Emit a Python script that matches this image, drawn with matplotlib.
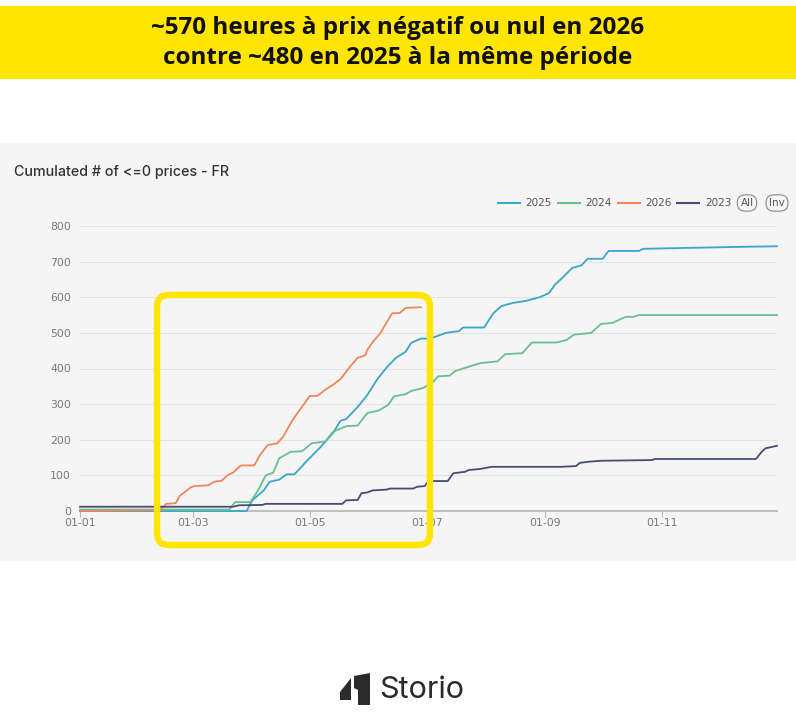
import numpy as np
import matplotlib.pyplot as plt
from matplotlib.patches import Rectangle, FancyBboxPatch, Polygon
from matplotlib.lines import Line2D

# day-of-year (0 = 01-01) and cumulated count of hours with price <= 0
days_2026 = [0, 42, 45, 50, 52, 58, 60, 67, 70, 74, 77, 80, 84, 91, 94, 98, 103, 106, 111, 116,
             120, 124, 128, 132, 136, 141, 145, 149, 150, 153, 157, 160, 163, 167, 170, 178]
vals_2026 = [0, 3, 20, 22, 42, 67, 70, 72, 82, 85, 100, 108, 128, 128, 157, 185, 190, 208, 255, 293,
             323, 323, 340, 354, 370, 405, 430, 437, 452, 475, 500, 528, 555, 556, 570, 572]

days_2025 = [0, 87, 90, 96, 99, 104, 108, 112, 118, 125, 132, 136, 139, 145, 150, 155, 160, 165,
             170, 173, 178, 183, 191, 198, 200, 211, 216, 220, 226, 233, 240, 245, 248, 252, 257,
             262, 265, 273, 276, 292, 294, 350, 364]
vals_2025 = [0, 0, 30, 58, 82, 88, 103, 103, 138, 176, 218, 253, 258, 292, 325, 368, 402, 430,
             447, 472, 484, 484, 500, 505, 515, 515, 556, 575, 584, 590, 600, 612, 635, 655, 682,
             690, 708, 708, 730, 730, 736, 742, 743]

days_2024 = [0, 78, 81, 89, 93, 97, 101, 104, 110, 116, 121, 128, 132, 139, 145, 150, 156, 161,
             164, 170, 173, 179, 184, 187, 193, 196, 200, 209, 218, 222, 231, 236, 249, 254, 258,
             267, 272, 278, 285, 289, 292, 364]
vals_2024 = [4, 4, 25, 25, 58, 100, 108, 148, 166, 168, 190, 195, 222, 238, 240, 275, 282, 298,
             322, 328, 337, 345, 360, 378, 380, 393, 400, 415, 420, 440, 443, 473, 473, 480, 495,
             500, 525, 528, 545, 545, 550, 550]

days_2023 = [0, 80, 83, 95, 97, 137, 139, 145, 147, 150, 153, 160, 162, 174, 176, 180, 182, 192,
             195, 201, 203, 209, 215, 251, 259, 261, 265, 272, 299, 300, 353, 356, 358, 364]
vals_2023 = [12, 12, 16, 17, 20, 20, 30, 31, 50, 52, 58, 60, 63, 63, 68, 70, 84, 84,
             106, 110, 115, 118, 124, 124, 126, 135, 138, 141, 143, 146, 146, 166, 176, 183]

tick_days = [0, 59, 120, 181, 243, 304]
tick_labels = ['01-01', '01-03', '01-05', '01-07', '01-09', '01-11']
y_ticks = [0, 100, 200, 300, 400, 500, 600, 700, 800]

series = [('2025', days_2025, vals_2025, '#3aa6c8'),
          ('2024', days_2024, vals_2024, '#68c08d'),
          ('2026', days_2026, vals_2026, '#f0875b'),
          ('2023', days_2023, vals_2023, '#474c74')]

W, H = 796, 727
fig = plt.figure(figsize=(W / 100, H / 100), dpi=100)
fig.patch.set_facecolor('white')


def fx(px):
    return px / W


def fy(py):
    return 1 - py / H


# yellow banner
fig.patches.append(Rectangle((0, fy(79)), 1, fy(6) - fy(79), transform=fig.transFigure,
                             facecolor='#ffe500', edgecolor='none', zorder=-2))
banner_font = dict(fontsize=17.5, fontweight='bold', family='Open Sans',
                   color='#111111', ha='center', va='center')
fig.text(0.5, fy(28), '~570 heures à prix négatif ou nul en 2026', **banner_font)
fig.text(0.5, fy(58), 'contre ~480 en 2025 à la même période', **banner_font)

# grey chart panel
fig.patches.append(Rectangle((0, fy(561)), 1, fy(143) - fy(561), transform=fig.transFigure,
                             facecolor='#f5f5f5', edgecolor='none', zorder=-2))
fig.text(fx(14), fy(172), 'Cumulated # of <=0 prices - FR', ha='left', va='center',
         fontsize=10.3, family='Inter', fontweight='medium', color='#333333')

ax = fig.add_axes([fx(80), fy(511), fx(777) - fx(80), fy(226) - fy(511)])
ax.set_facecolor('none')
ax.set_xlim(0, 364)
ax.set_ylim(0, 800)
for name, d, v, c in series:
    ax.plot(d, v, color=c, lw=1.3, clip_on=False, zorder=3)

ax.set_yticks(y_ticks)
ax.set_yticklabels([str(t) for t in y_ticks])
ax.set_xticks(tick_days)
ax.set_xticklabels(tick_labels)
ax.grid(axis='y', color='#e3e3e3', lw=0.8)
for s in ['top', 'right', 'left']:
    ax.spines[s].set_visible(False)
ax.spines['bottom'].set_color('#b5b5b5')
ax.spines['bottom'].set_linewidth(1.2)
ax.tick_params(axis='y', length=0, pad=6.5, labelsize=7.8, labelcolor='#777777')
ax.tick_params(axis='x', length=4, width=0.8, color='#b5b5b5', pad=1, labelsize=7.8,
               labelcolor='#777777')

# legend
leg_y = fy(203)
leg_pos = [(498, 525), (558, 585), (618, 645), (677, 705)]
for (name, d, v, c), (lx, tx) in zip(series, leg_pos):
    fig.lines.append(Line2D([fx(lx), fx(lx + 22)], [leg_y, leg_y], transform=fig.transFigure,
                            color=c, lw=1.5))
    fig.text(fx(tx), leg_y, name, ha='left', va='center', fontsize=7.5, color='#555555')
for label, cx in [('All', 747), ('Inv', 777)]:
    fig.text(fx(cx), leg_y, label, ha='center', va='center', fontsize=7.5, color='#555555',
             bbox=dict(boxstyle='round,pad=0.3,rounding_size=0.75', fc='none',
                       ec='#888888', lw=0.8))

# yellow highlight frame
fig.patches.append(FancyBboxPatch((fx(157), fy(545)), fx(430) - fx(157), fy(295) - fy(545),
                                  boxstyle='round,pad=0,rounding_size=0.015',
                                  transform=fig.transFigure, facecolor='none',
                                  edgecolor='#ffe500', lw=4.6, zorder=5,
                                  mutation_aspect=W / H))

# Storio logo
fig.patches.append(Polygon([(fx(340), fy(692)), (fx(351), fy(678)), (fx(351), fy(700)),
                            (fx(340), fy(700))], closed=True, transform=fig.transFigure,
                           facecolor='#2b2b2b', edgecolor='none'))
fig.patches.append(Polygon([(fx(354), fy(676)), (fx(370), fy(673)), (fx(370), fy(705)),
                            (fx(358), fy(705)), (fx(358), fy(690)), (fx(354), fy(688))],
                           closed=True, transform=fig.transFigure,
                           facecolor='#2b2b2b', edgecolor='none'))
fig.text(fx(379), fy(690), 'Storio', ha='left', va='center', fontsize=22, family='Inter',
         color='#2b2b2b')

fig.savefig('out.png', dpi=100, facecolor='white')
